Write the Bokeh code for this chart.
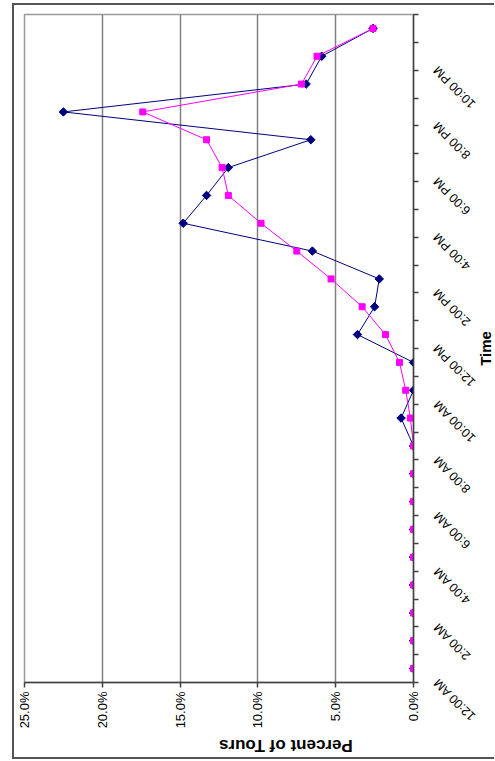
import math
from bokeh.plotting import figure
from bokeh.layouts import row, column
from bokeh.models import Range1d, FixedTicker, PrintfTickFormatter, ColumnDataSource
from bokeh.core.properties import value
from bokeh.embed import file_html
from bokeh.resources import INLINE

# ---- data -------------------------------------------------------------
hours = ["12:00 AM", "1:00 AM", "2:00 AM", "3:00 AM", "4:00 AM", "5:00 AM",
         "6:00 AM", "7:00 AM", "8:00 AM", "9:00 AM", "10:00 AM", "11:00 AM",
         "12:00 PM", "1:00 PM", "2:00 PM", "3:00 PM", "4:00 PM", "5:00 PM",
         "6:00 PM", "7:00 PM", "8:00 PM", "9:00 PM", "10:00 PM", "11:00 PM"]
navy_pct = [0, 0, 0, 0, 0, 0, 0, 0, 0, 0.8, 0, 0,
            3.6, 2.5, 2.2, 6.5, 14.8, 13.3, 11.9, 6.6, 22.5, 6.9, 5.9, 2.6]
pink_pct = [0, 0, 0, 0, 0, 0, 0, 0, 0, 0.2, 0.5, 0.9,
            1.8, 3.3, 5.3, 7.5, 9.8, 11.9, 12.3, 13.3, 17.4, 7.2, 6.2, 2.6]
value_ticks = [0, 5, 10, 15, 20, 25]
label_every = 2

FONT = "Liberation Sans"

# ---- layout numbers (pixels) -----------------------------------------
FRAME_W, FRAME_H = 389, 668
BORDER_L, BORDER_T, BORDER_R, BORDER_B = 24, 14, 8, 78
TOTAL_H = BORDER_T + FRAME_H + BORDER_B
SIDE_W = 73

n = len(hours)
centers = [i + 0.5 for i in range(n)]          # category centres
label_pos = centers[::label_every]
label_txt = hours[::label_every]

# ---- main chart -------------------------------------------------------
p = figure(frame_width=FRAME_W, frame_height=FRAME_H,
           output_backend="svg", toolbar_location=None,
           x_range=Range1d(value_ticks[-1], value_ticks[0]),
           y_range=Range1d(0, n),
           x_axis_location="below", y_axis_location="right",
           min_border_left=BORDER_L, min_border_top=BORDER_T,
           min_border_right=BORDER_R, min_border_bottom=BORDER_B,
           background_fill_color="white", border_fill_alpha=0)

p.outline_line_color = "#9a9a9a"
p.outline_line_width = 1.5

p.xgrid.ticker = FixedTicker(ticks=value_ticks)
p.xgrid.grid_line_color = "#808080"
p.xgrid.grid_line_width = 1.5
p.ygrid.visible = False

xa = p.xaxis[0]
xa.ticker = FixedTicker(ticks=value_ticks)
xa.formatter = PrintfTickFormatter(format="%.1f%%")
xa.major_label_orientation = math.pi / 2
xa.major_label_text_font = FONT
xa.major_label_text_font_size = "13px"
xa.major_label_text_color = "black"
xa.major_label_standoff = 4
xa.major_tick_out = 5
xa.major_tick_in = 0
xa.minor_tick_line_color = None
xa.axis_line_color = "#404040"
xa.axis_line_width = 1.5
xa.major_tick_line_color = "#404040"
xa.major_tick_line_width = 1.5
xa.axis_label = "Percent of Tours"
xa.axis_label_text_font = FONT
xa.axis_label_text_font_size = "17px"
xa.axis_label_text_font_style = "bold"
xa.axis_label_text_color = "black"
xa.axis_label_standoff = 14
xa.axis_label_orientation = math.pi

# category axis: tick marks between categories (no labels here)
ya = p.yaxis[0]
ya.ticker = FixedTicker(ticks=[], minor_ticks=list(range(n + 1)))
ya.major_tick_line_color = None
ya.major_tick_out = 0
ya.major_tick_in = 0
ya.minor_tick_out = 5
ya.minor_tick_in = 0
ya.minor_tick_line_color = "#404040"
ya.minor_tick_line_width = 1.5
ya.axis_line_color = "#404040"
ya.axis_line_width = 1.5
ya.major_label_standoff = 0

p.line(x=navy_pct, y=centers, line_color="#000080", line_width=1)
p.scatter(x=navy_pct, y=centers, marker="square", angle=math.pi / 4, size=6,
          fill_color="#000080", line_color="#000080")
p.line(x=pink_pct, y=centers, line_color="#FF00FF", line_width=1)
p.scatter(x=pink_pct, y=centers, marker="square", size=6,
          fill_color="#FF00FF", line_color="#FF00FF")

# ---- side strip holding the rotated category labels and axis title ----
ppu = FRAME_H / n                               # pixels per category
s = figure(width=SIDE_W, height=TOTAL_H, output_backend="svg",
           toolbar_location=None, x_axis_location=None, y_axis_location=None,
           x_range=Range1d(0, SIDE_W),
           y_range=Range1d(-BORDER_B / ppu, n + BORDER_T / ppu),
           min_border_left=0, min_border_right=0, min_border_top=0,
           min_border_bottom=0, background_fill_alpha=0, border_fill_alpha=0)
s.outline_line_color = None
s.grid.visible = False

lab_src = ColumnDataSource(dict(x=[14] * len(label_pos), y=label_pos,
                                text=label_txt))
s.text(x="x", y="y", text="text", source=lab_src, y_offset=12,
       angle=3 * math.pi / 4, text_align="right", text_baseline="middle",
       text_font=value(FONT), text_font_size="12.5px", text_color="black")
s.text(x=[63.5], y=[n / 2], text=["Time"], angle=math.pi / 2,
       text_align="center", text_baseline="middle",
       text_font=value(FONT), text_font_size="15px",
       text_font_style="bold", text_color="black")

chart_bg = ("linear-gradient(#555555,#555555), linear-gradient(#555555,#555555), "
            "linear-gradient(#555555,#555555)")
layout = row(p, column(s), spacing=0,
             styles={"background-color": "white",
                     "background-image": chart_bg,
                     "background-size": "2px 756px, 482px 2px, 482px 2px",
                     "background-position": "12px 3px, 12px 3px, 12px 757px",
                     "background-repeat": "no-repeat"})

open("out.html", "w").write(file_html(layout, INLINE))
